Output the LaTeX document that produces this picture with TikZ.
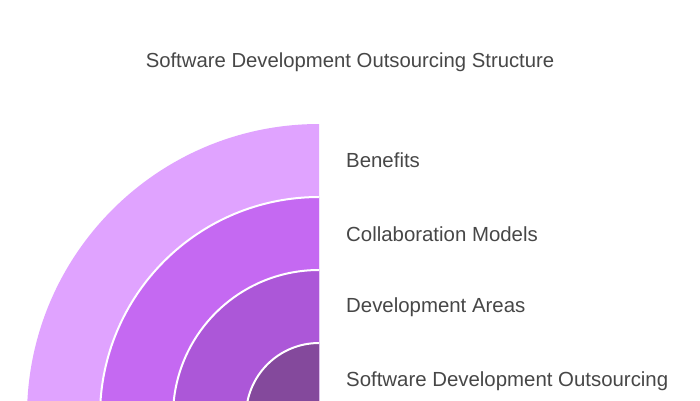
\documentclass[tikz,border=0pt]{standalone}
\usepackage{fontspec}
\setmainfont{Liberation Sans}
\definecolor{ringA}{HTML}{E0A3FF}
\definecolor{ringB}{HTML}{C569F2}
\definecolor{ringC}{HTML}{AC57D8}
\definecolor{ringD}{HTML}{84499C}
\definecolor{txt}{HTML}{474747}
\begin{document}
\begin{tikzpicture}[x=1pt,y=-1pt,
  lbl/.style={anchor=west,inner sep=0pt,text=txt,font=\fontsize{20.4}{22}\selectfont},
  ttl/.style={inner sep=0pt,text=txt,font=\fontsize{20.3}{22}\selectfont},
  sep/.style={draw=white,line width=2pt}]
\useasboundingbox (0,0) rectangle (700,400);
\clip (0,0) rectangle (700,400);
\fill[white] (0,0) rectangle (700,400);
\coordinate (c) at (319,416);
\fill[ringA] (c) -- ++(0,-292) arc[start angle=270,end angle=180,radius=292] -- cycle;
\fill[ringB] (c) -- ++(0,-219) arc[start angle=270,end angle=180,radius=219] -- cycle;
\fill[ringC] (c) -- ++(0,-146) arc[start angle=270,end angle=180,radius=146] -- cycle;
\fill[ringD] (c) -- ++(0,-73) arc[start angle=270,end angle=180,radius=73] -- cycle;
\draw[sep] (c) ++(0,-219) arc[start angle=270,end angle=180,radius=219];
\draw[sep] (c) ++(0,-146) arc[start angle=270,end angle=180,radius=146];
\draw[sep] (c) ++(0,-73) arc[start angle=270,end angle=180,radius=73];
\node[ttl] (title) at (350,62) {Software Development Outsourcing Structure};
\node[lbl] (l1) at (346,160) {Benefits};
\node[lbl] (l2) at (346,234) {Collaboration Models};
\node[lbl] (l3) at (346,307) {Development Areas};
\node[lbl] (l4) at (346,381) {Software Development Outsourcing};
\end{tikzpicture}
\end{document}
